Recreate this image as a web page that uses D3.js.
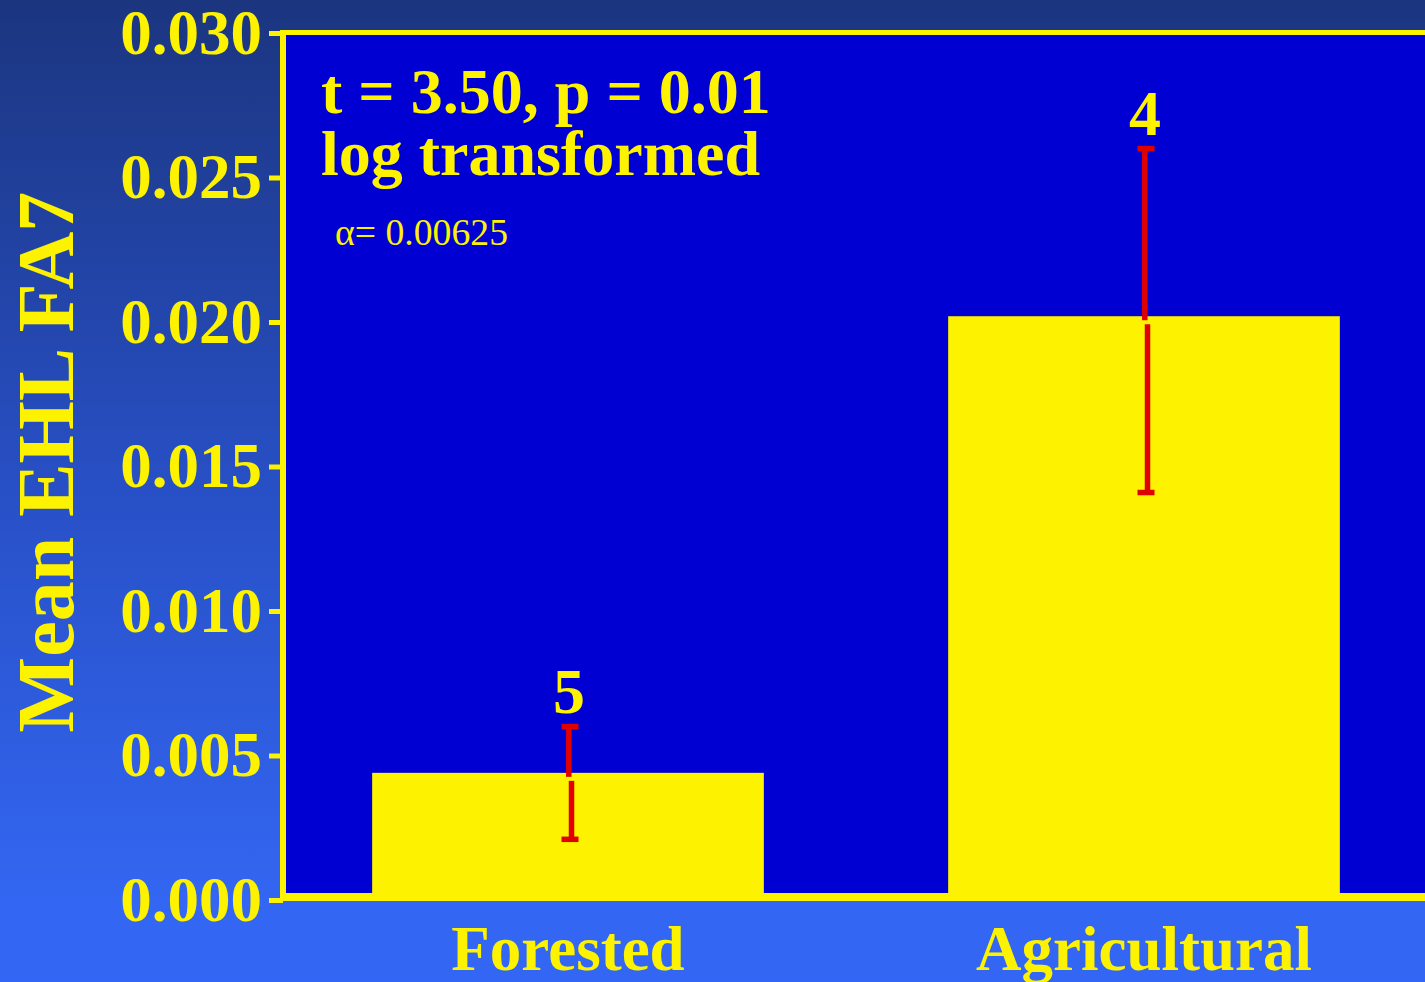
<!DOCTYPE html>
<html>
<head>
<meta charset="utf-8">
<script src="https://cdn.jsdelivr.net/npm/d3@7/dist/d3.min.js"></script>
<style>
  html, body { margin: 0; padding: 0; overflow: hidden; background: #2a52c8; }
  svg { display: block; }
  text { font-family: "Liberation Serif", "Times New Roman", serif; fill: #fdf200; }
</style>
</head>
<body>
<svg id="chart" width="1425" height="982"></svg>
<script>
// Site categories and mean EHL FA7 (back-transformed from log scale)
const categories = ["Forested", "Agricultural"];
const means      = [0.0044, 0.0202];
const errLower   = [0.0021, 0.0141];
const errUpper   = [0.0060, 0.0260];
const sampleN    = [5, 4];
const yTicks     = [0, 0.005, 0.010, 0.015, 0.020, 0.025, 0.030];
const statLines  = ["t = 3.50, p = 0.01", "log transformed"];
const alphaText  = "\u03b1= 0.00625";
const yTitle     = "Mean EHL FA7";

const W = 1425, H = 982;
const YELLOW = "#fdf200", PLOT_BLUE = "#0000d2", RED = "#e00000";

const svg = d3.select("#chart");

// Background: vertical navy-to-royal-blue gradient
const defs = svg.append("defs");
const grad = defs.append("linearGradient").attr("id", "bg")
  .attr("x1", 0).attr("y1", 0).attr("x2", 0).attr("y2", 1);
grad.append("stop").attr("offset", "0%").attr("stop-color", "#1b357f");
grad.append("stop").attr("offset", "50%").attr("stop-color", "#2850c6");
grad.append("stop").attr("offset", "92%").attr("stop-color", "#3366f2");
grad.append("stop").attr("offset", "100%").attr("stop-color", "#3366f4");
svg.append("rect").attr("width", W).attr("height", H).attr("fill", "url(#bg)");

// Scales
const plotLeft = 283, plotTop = 32.5, plotBottom = 897;
const y = d3.scaleLinear().domain([0, 0.03]).range([900, 33]);
const x = d3.scaleBand().domain(categories).range([280, 1432])
  .paddingInner(0.32).paddingOuter(0.16);

// Plot area
svg.append("rect")
  .attr("x", plotLeft).attr("y", plotTop)
  .attr("width", W - plotLeft + 10).attr("height", plotBottom - plotTop)
  .attr("fill", PLOT_BLUE);

// Bars
svg.append("g").selectAll("rect").data(categories).join("rect")
  .attr("x", d => x(d))
  .attr("width", x.bandwidth())
  .attr("y", (d, i) => y(means[i]))
  .attr("height", (d, i) => 893 - y(means[i]))
  .attr("fill", YELLOW);

// Frame: top and left borders, bottom axis line
svg.append("line").attr("x1", plotLeft - 3).attr("x2", W + 5)
  .attr("y1", plotTop).attr("y2", plotTop)
  .attr("stroke", YELLOW).attr("stroke-width", 5);
svg.append("line").attr("x1", plotLeft).attr("x2", plotLeft)
  .attr("y1", plotTop - 2.5).attr("y2", plotBottom + 4)
  .attr("stroke", YELLOW).attr("stroke-width", 6);
svg.append("line").attr("x1", plotLeft - 3).attr("x2", W + 5)
  .attr("y1", plotBottom).attr("y2", plotBottom)
  .attr("stroke", YELLOW).attr("stroke-width", 8);

// Y axis
const yAxis = svg.append("g")
  .attr("transform", `translate(${plotLeft},0)`)
  .call(d3.axisLeft(y).tickValues(yTicks).tickFormat(d3.format(".3f"))
    .tickSize(14).tickPadding(7));
yAxis.select(".domain").remove();
yAxis.selectAll(".tick line").attr("stroke", YELLOW).attr("stroke-width", 5);
yAxis.selectAll(".tick text")
  .attr("fill", YELLOW)
  .style("font-family", "'Liberation Serif', 'Times New Roman', serif")
  .style("font-weight", "bold")
  .style("font-size", "63px");

// Y axis title
svg.append("text")
  .attr("transform", "translate(73,462) rotate(-90)")
  .attr("text-anchor", "middle")
  .style("font-weight", "bold").style("font-size", "80px")
  .text(yTitle);

// X category labels
svg.append("g").selectAll("text").data(categories).join("text")
  .attr("x", d => x(d) + x.bandwidth() / 2)
  .attr("y", 970)
  .attr("text-anchor", "middle")
  .style("font-weight", "bold").style("font-size", "63px")
  .text(d => d);

// Error bars: split where they cross the bar top
const capHalf = 8.5;
const eb = svg.append("g").attr("stroke", RED).attr("stroke-width", 5.5);
categories.forEach((c, i) => {
  const cx = x(c) + x.bandwidth() / 2 + 2;
  const top = y(errUpper[i]), bot = y(errLower[i]), mid = y(means[i]);
  eb.append("line").attr("x1", cx - 1.2).attr("x2", cx - 1.2)
    .attr("y1", top).attr("y2", mid + 4);
  eb.append("line").attr("x1", cx + 1.5).attr("x2", cx + 1.5)
    .attr("y1", mid + 8).attr("y2", bot);
  eb.append("line").attr("x1", cx - capHalf).attr("x2", cx + capHalf)
    .attr("y1", top).attr("y2", top);
  eb.append("line").attr("x1", cx - capHalf).attr("x2", cx + capHalf)
    .attr("y1", bot).attr("y2", bot);
});

// Sample sizes above the error bars
svg.append("g").selectAll("text").data(categories).join("text")
  .attr("x", d => x(d) + x.bandwidth() / 2 + 1)
  .attr("y", (d, i) => y(errUpper[i]) - 14)
  .attr("text-anchor", "middle")
  .style("font-weight", "bold").style("font-size", "64px")
  .text((d, i) => sampleN[i]);

// Test statistics
svg.append("g").selectAll("text").data(statLines).join("text")
  .attr("x", 321)
  .attr("y", (d, i) => 113 + i * 62)
  .style("font-weight", "bold").style("font-size", "64px")
  .text(d => d);
svg.append("text")
  .attr("x", 335).attr("y", 245)
  .style("font-size", "38px")
  .attr("textLength", 173)
  .attr("lengthAdjust", "spacingAndGlyphs")
  .text(alphaText);
</script>
</body>
</html>
